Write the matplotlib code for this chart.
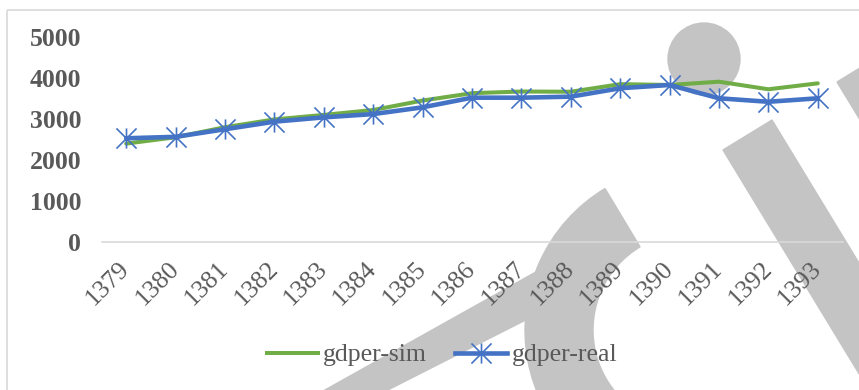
import numpy as np
import matplotlib
matplotlib.use("Agg")
import matplotlib.pyplot as plt
import matplotlib.transforms as mtransforms
from matplotlib.path import Path
from matplotlib.patches import Rectangle, Circle, Polygon, Wedge
from matplotlib.lines import Line2D

years = ["1379", "1380", "1381", "1382", "1383", "1384", "1385", "1386",
         "1387", "1388", "1389", "1390", "1391", "1392", "1393"]
gdper_sim = [2400, 2555, 2800, 2990, 3100, 3220, 3450, 3630, 3670, 3665,
             3850, 3830, 3910, 3725, 3870]
gdper_real = [2530, 2565, 2750, 2935, 3040, 3120, 3285, 3520, 3520, 3545,
              3750, 3830, 3505, 3420, 3505]

GREEN = "#70AD47"
BLUE = "#4472C4"
TXT = "#595959"
SERIF = "Liberation Serif"

W, H = 859, 390
fig = plt.figure(figsize=(W / 100, H / 100), dpi=100)

# pixel coordinates measured from the top-left corner (y down)
pix = mtransforms.Affine2D().scale(1 / 100, -1 / 100).translate(0, H / 100) \
    + fig.dpi_scale_trans
# same, but y up, for arcs so angles run the usual way
pix_up = mtransforms.Affine2D().scale(1 / 100) + fig.dpi_scale_trans

# grey watermark shapes behind the chart
wm = "#c4c4c4"
fig.patches.append(Circle((704, 59), 36, transform=pix, color=wm, zorder=-2))
d = np.array([0.52, 0.855]) * 500
for a, b in [((723, 150), (772, 120)), ((837, 82), (886, 52))]:
    pts = [a, b, (b[0] + d[0], b[1] + d[1]), (a[0] + d[0], a[1] + d[1])]
    fig.patches.append(Polygon(pts, closed=True, transform=pix,
                               color=wm, zorder=-2))
fig.patches.append(Wedge((690, H - 330), 165, 121, 260, width=68,
                         transform=pix_up, color=wm, zorder=-2))
fig.patches.append(Polygon([(316, 395), (543, 268), (565, 300), (378, 395)],
                           closed=True, transform=pix, color=wm, zorder=-2))

# chart frame
fig.patches.append(Rectangle((7, 10), W + 20, H + 20, transform=pix,
                             fill=False, edgecolor="#d9d9d9", lw=1.2,
                             zorder=-1))

ax = fig.add_axes([101.5 / W, 1 - 242 / H, 741 / W, 205 / H])
ax.set_facecolor("none")

# Excel-like asterisk marker: vertical stroke plus an X
star = Path([(0, -1), (0, 1), (-1, -1), (1, 1), (-1, 1), (1, -1)],
            [Path.MOVETO, Path.LINETO] * 3)

x = np.arange(len(years))
ax.plot(x, gdper_sim, color=GREEN, lw=2.9, solid_capstyle="round")
ax.plot(x, gdper_real, color=BLUE, lw=3.3, solid_capstyle="round",
        marker=star, ms=14.5, mew=1.2, mec=BLUE)

ax.set_xlim(-0.5, len(years) - 0.5)
ax.set_ylim(0, 5000)
ax.set_yticks(range(0, 5001, 1000))
ax.set_yticklabels([str(v) for v in range(0, 5001, 1000)],
                   fontfamily=SERIF, fontsize=18.5, fontweight="bold", color=TXT)
ax.set_xticks(x)
ax.set_xticklabels(years, rotation=45, ha="right", va="center",
                   rotation_mode="anchor", fontfamily=SERIF, fontsize=18.5,
                   color=TXT)
shift = mtransforms.ScaledTranslation(4 / 100, 0, fig.dpi_scale_trans)
for lab in ax.get_xticklabels():
    lab.set_transform(lab.get_transform() + shift)
ax.tick_params(axis="both", length=0)
ax.tick_params(axis="y", pad=14.5)
ax.tick_params(axis="x", pad=17)

for s in ["top", "left", "right"]:
    ax.spines[s].set_visible(False)
ax.spines["bottom"].set_color("#d9d9d9")
ax.spines["bottom"].set_linewidth(1.2)

handles = [Line2D([], [], color=GREEN, lw=2.9),
           Line2D([], [], color=BLUE, lw=3.3, marker=star, ms=14.5,
                  mew=1.2, mec=BLUE)]
fig.legend(handles, ["gdper-sim", "gdper-real"], loc="center",
           bbox_to_anchor=(442 / W, 1 - 355 / H), ncol=2, frameon=False,
           prop={"family": SERIF, "size": 18.5}, handlelength=2.0,
           handletextpad=0.2, columnspacing=1.1, labelcolor=TXT)

fig.savefig("out.png", dpi=100)
